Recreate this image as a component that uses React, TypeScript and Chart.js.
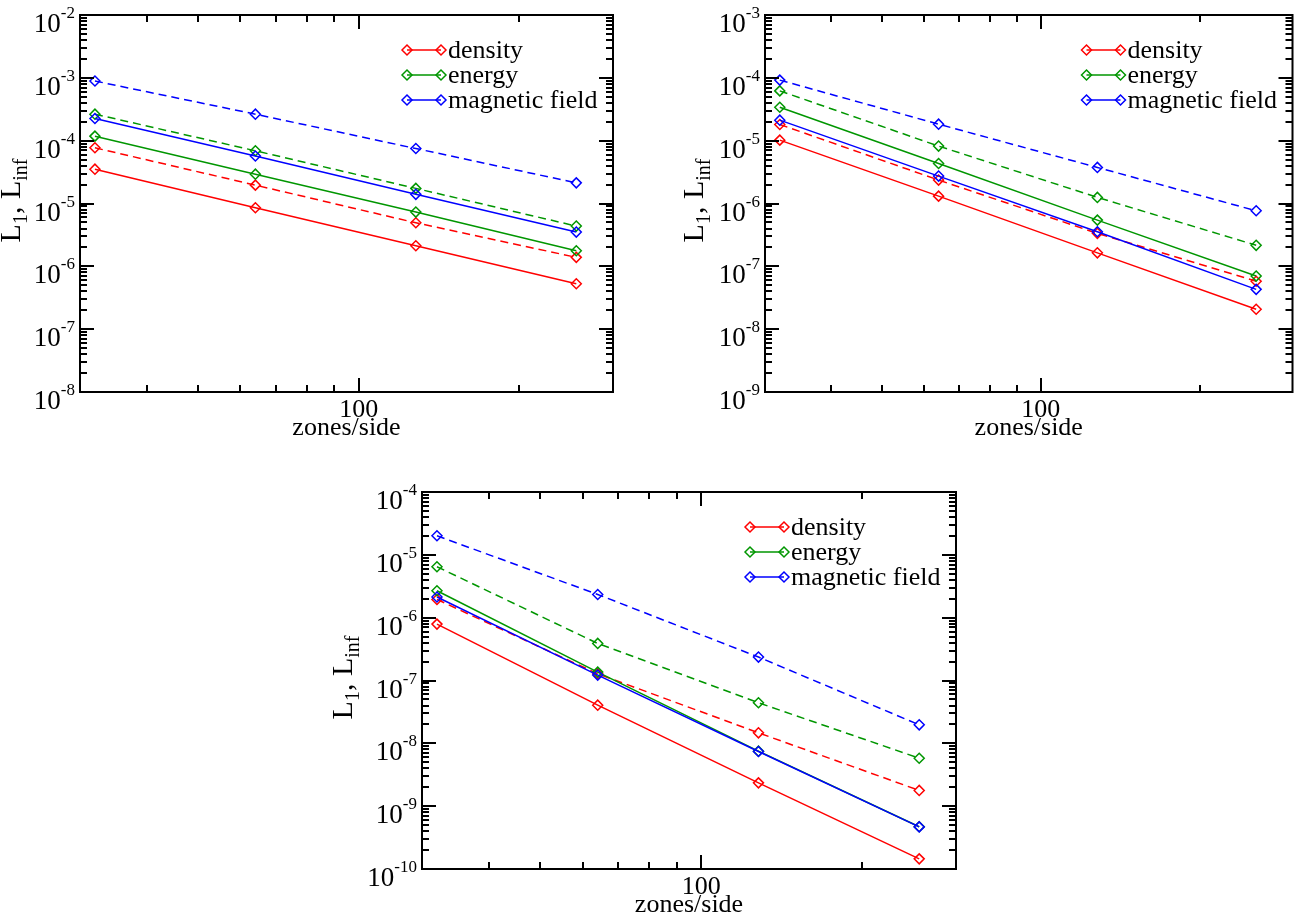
import React, { useEffect, useRef } from "react";
import { Chart, registerables } from "chart.js";

Chart.register(...registerables);

// ---------- data ----------
const zones = [32, 64, 128, 256];
const xMin = 30;
const xMax = 300;
const xMajorTicks = [100];
const xMinorTicks = [40, 50, 60, 70, 80, 90, 200];
const minorMultiples = [2, 3, 4, 5, 6, 7, 8, 9];

const seriesNames = ["density", "energy", "magnetic field"];
const seriesColors = ["#ff0000", "#009600", "#0000ff"];

// Panel A (top-left)
const densityL1A = [3.52e-5, 8.55e-6, 2.13e-6, 5.28e-7];
const densityLinfA = [7.7e-5, 1.96e-5, 4.93e-6, 1.39e-6];
const energyL1A = [1.18e-4, 2.93e-5, 7.3e-6, 1.77e-6];
const energyLinfA = [2.64e-4, 6.9e-5, 1.74e-5, 4.37e-6];
const magL1A = [2.25e-4, 5.7e-5, 1.4e-5, 3.51e-6];
const magLinfA = [8.9e-4, 2.64e-4, 7.5e-5, 2.13e-5];
const yDecadesA = [-8, -7, -6, -5, -4, -3, -2];

// Panel B (top-right)
const densityL1B = [1.02e-5, 1.31e-6, 1.64e-7, 2.07e-8];
const densityLinfB = [1.81e-5, 2.36e-6, 3.35e-7, 5.8e-8];
const energyL1B = [3.4e-5, 4.34e-6, 5.44e-7, 7.0e-8];
const energyLinfB = [6.2e-5, 8.2e-6, 1.25e-6, 2.16e-7];
const magL1B = [2.12e-5, 2.73e-6, 3.55e-7, 4.3e-8];
const magLinfB = [9.2e-5, 1.83e-5, 3.75e-6, 7.66e-7];
const yDecadesB = [-9, -8, -7, -6, -5, -4, -3];

// Panel C (bottom)
const densityL1C = [7.9e-7, 4.05e-8, 2.35e-9, 1.45e-10];
const densityLinfC = [1.95e-6, 1.28e-7, 1.47e-8, 1.78e-9];
const energyL1C = [2.68e-6, 1.36e-7, 7.5e-9, 4.7e-10];
const energyLinfC = [6.47e-6, 3.89e-7, 4.42e-8, 5.8e-9];
const magL1C = [2.13e-6, 1.22e-7, 7.42e-9, 4.68e-10];
const magLinfC = [2.01e-5, 2.34e-6, 2.36e-7, 1.97e-8];
const yDecadesC = [-10, -9, -8, -7, -6, -5, -4];

const xTitle = "zones/side";

// ---------- layout ----------
const FONT = "'Liberation Serif', 'Times New Roman', Times, serif";

type Panel = {
  left: number;
  top: number;
  w: number;
  h: number;
  area: { left: number; top: number; right: number; bottom: number };
  decades: number[];
  l1: number[][];
  linf: number[][];
  titleOff: number;
};

const panels: Panel[] = [
  {
    left: 0, top: 0, w: 640, h: 450,
    area: { left: 80, top: 15, right: 613, bottom: 392 },
    decades: yDecadesA,
    l1: [densityL1A, energyL1A, magL1A],
    linf: [densityLinfA, energyLinfA, magLinfA],
    titleOff: 60,
  },
  {
    left: 650, top: 0, w: 649, h: 450,
    area: { left: 115, top: 15, right: 647, bottom: 392 },
    decades: yDecadesB,
    l1: [densityL1B, energyL1B, magL1B],
    linf: [densityLinfB, energyLinfB, magLinfB],
    titleOff: 62,
  },
  {
    left: 320, top: 460, w: 660, h: 456,
    area: { left: 102, top: 32, right: 636, bottom: 409 },
    decades: yDecadesC,
    l1: [densityL1C, energyL1C, magL1C],
    linf: [densityLinfC, energyLinfC, magLinfC],
    titleOff: 70,
  },
];

function pow10(e: number) {
  return Number("1e" + e);
}

function diamond(ctx: CanvasRenderingContext2D, x: number, y: number, r: number) {
  ctx.beginPath();
  ctx.moveTo(x - r, y);
  ctx.lineTo(x, y - r);
  ctx.lineTo(x + r, y);
  ctx.lineTo(x, y + r);
  ctx.closePath();
  ctx.stroke();
}

function makeDecor(p: Panel) {
  return {
    id: "decor",
    afterDatasetsDraw(chart: any) {
      const ctx: CanvasRenderingContext2D = chart.ctx;
      const a = chart.chartArea;
      const xs = chart.scales.x;
      const ys = chart.scales.y;
      ctx.save();
      ctx.strokeStyle = "#000";
      ctx.fillStyle = "#000";
      ctx.lineWidth = 2;
      ctx.lineCap = "butt";
      const seg = (x1: number, y1: number, x2: number, y2: number) => {
        ctx.beginPath();
        ctx.moveTo(x1, y1);
        ctx.lineTo(x2, y2);
        ctx.stroke();
      };
      // frame
      ctx.strokeRect(a.left, a.top, a.right - a.left, a.bottom - a.top);
      // x ticks (inward, bottom and top)
      const xTick = (v: number, len: number) => {
        const px = Math.round(xs.getPixelForValue(v));
        seg(px, a.bottom, px, a.bottom - len);
        seg(px, a.top, px, a.top + len);
      };
      xMajorTicks.forEach((v) => xTick(v, 14));
      xMinorTicks.forEach((v) => xTick(v, 7));
      // y ticks (inward, left and right)
      const yTick = (v: number, len: number) => {
        const py = Math.round(ys.getPixelForValue(v));
        seg(a.left, py, a.left + len, py);
        seg(a.right, py, a.right - len, py);
      };
      p.decades.forEach((e, i) => {
        yTick(pow10(e), 14);
        if (i < p.decades.length - 1) {
          minorMultiples.forEach((m) => yTick(m * pow10(e), 7));
        }
      });
      // x tick labels
      ctx.font = `26px ${FONT}`;
      ctx.textAlign = "center";
      ctx.textBaseline = "alphabetic";
      xMajorTicks.forEach((v) => {
        ctx.fillText(String(v), xs.getPixelForValue(v), a.bottom + 25);
      });
      // x title
      ctx.fillText(xTitle, (a.left + a.right) / 2, a.bottom + 43);
      // y tick labels 10^e
      ctx.textAlign = "left";
      p.decades.forEach((e) => {
        const py = ys.getPixelForValue(pow10(e));
        ctx.font = `27px ${FONT}`;
        const wBase = ctx.measureText("10").width;
        ctx.font = `17px ${FONT}`;
        const sup = String(e);
        const wSup = ctx.measureText(sup).width;
        const x0 = a.left - 5 - wBase - wSup;
        ctx.font = `27px ${FONT}`;
        ctx.fillText("10", x0, py + 17);
        ctx.font = `17px ${FONT}`;
        ctx.fillText(sup, x0 + wBase, py + 3);
      });
      // y title: L_1, L_inf (rotated)
      const parts: [string, boolean][] = [["L", false], ["1", true], [", L", false], ["inf", true]];
      const mainF = `30px ${FONT}`;
      const subF = `20px ${FONT}`;
      let total = 0;
      parts.forEach(([t, sub]) => {
        ctx.font = sub ? subF : mainF;
        total += ctx.measureText(t).width;
      });
      ctx.save();
      ctx.translate(a.left - p.titleOff, (a.top + a.bottom) / 2 - 3);
      ctx.rotate(-Math.PI / 2);
      let cx = -total / 2;
      parts.forEach(([t, sub]) => {
        ctx.font = sub ? subF : mainF;
        ctx.fillText(t, cx, sub ? 7 : 0);
        cx += ctx.measureText(t).width;
      });
      ctx.restore();
      // legend
      seriesNames.forEach((name, i) => {
        const y = a.top + 35 + 25 * i;
        const x1 = a.right - 206;
        const x2 = a.right - 172;
        ctx.strokeStyle = seriesColors[i];
        ctx.lineWidth = 1.5;
        seg(x1, y, x2, y);
        diamond(ctx, x1, y, 5);
        diamond(ctx, x2, y, 5);
        ctx.fillStyle = "#000";
        ctx.font = `26px ${FONT}`;
        ctx.textAlign = "left";
        ctx.fillText(name, a.right - 165, y + 8);
      });
      ctx.restore();
    },
  };
}

function buildDatasets(p: Panel) {
  const ds: any[] = [];
  const drawOrder = [2, 1, 0];
  seriesNames.forEach((name, i) => {
    const base = {
      showLine: true,
      borderColor: seriesColors[i],
      pointBorderColor: seriesColors[i],
      pointBackgroundColor: "rgba(0,0,0,0)",
      pointStyle: "rectRot",
      pointRadius: 5,
      pointBorderWidth: 1.5,
      borderWidth: 1.5,
      order: drawOrder[i],
      clip: false,
    };
    ds.push({
      ...base,
      label: name + " L1",
      data: zones.map((z, k) => ({ x: z, y: p.l1[i][k] })),
    });
    ds.push({
      ...base,
      label: name + " Linf",
      borderDash: [8, 5],
      data: zones.map((z, k) => ({ x: z, y: p.linf[i][k] })),
    });
  });
  return ds;
}

function PanelChart({ p }: { p: Panel }) {
  const ref = useRef<HTMLCanvasElement>(null);
  useEffect(() => {
    if (!ref.current) return;
    const chart = new Chart(ref.current, {
      type: "scatter",
      data: { datasets: buildDatasets(p) },
      options: {
        animation: false,
        responsive: false,
        devicePixelRatio: 1,
        events: [],
        layout: { padding: { top: p.area.top, right: p.w - p.area.right, left: 0, bottom: 0 } },
        plugins: { legend: { display: false }, tooltip: { enabled: false } },
        scales: {
          x: {
            type: "logarithmic",
            min: xMin,
            max: xMax,
            bounds: "data",
            grid: { display: false },
            border: { display: false },
            ticks: { display: false },
            afterFit: (s: any) => {
              s.height = p.h - p.area.bottom;
            },
          },
          y: {
            type: "logarithmic",
            min: pow10(p.decades[0]),
            max: pow10(p.decades[p.decades.length - 1]),
            bounds: "data",
            grid: { display: false },
            border: { display: false },
            ticks: { display: false },
            afterFit: (s: any) => {
              s.width = p.area.left;
            },
          },
        },
      } as any,
      plugins: [makeDecor(p)],
    });
    return () => chart.destroy();
  }, [p]);
  return (
    <canvas
      ref={ref}
      width={p.w}
      height={p.h}
      style={{ position: "absolute", left: p.left, top: p.top, width: p.w, height: p.h }}
    />
  );
}

export default function App() {
  return (
    <div style={{ position: "absolute", left: 0, top: 0, width: 1299, height: 916, background: "#fff" }}>
      {panels.map((p, i) => (
        <PanelChart key={i} p={p} />
      ))}
    </div>
  );
}
